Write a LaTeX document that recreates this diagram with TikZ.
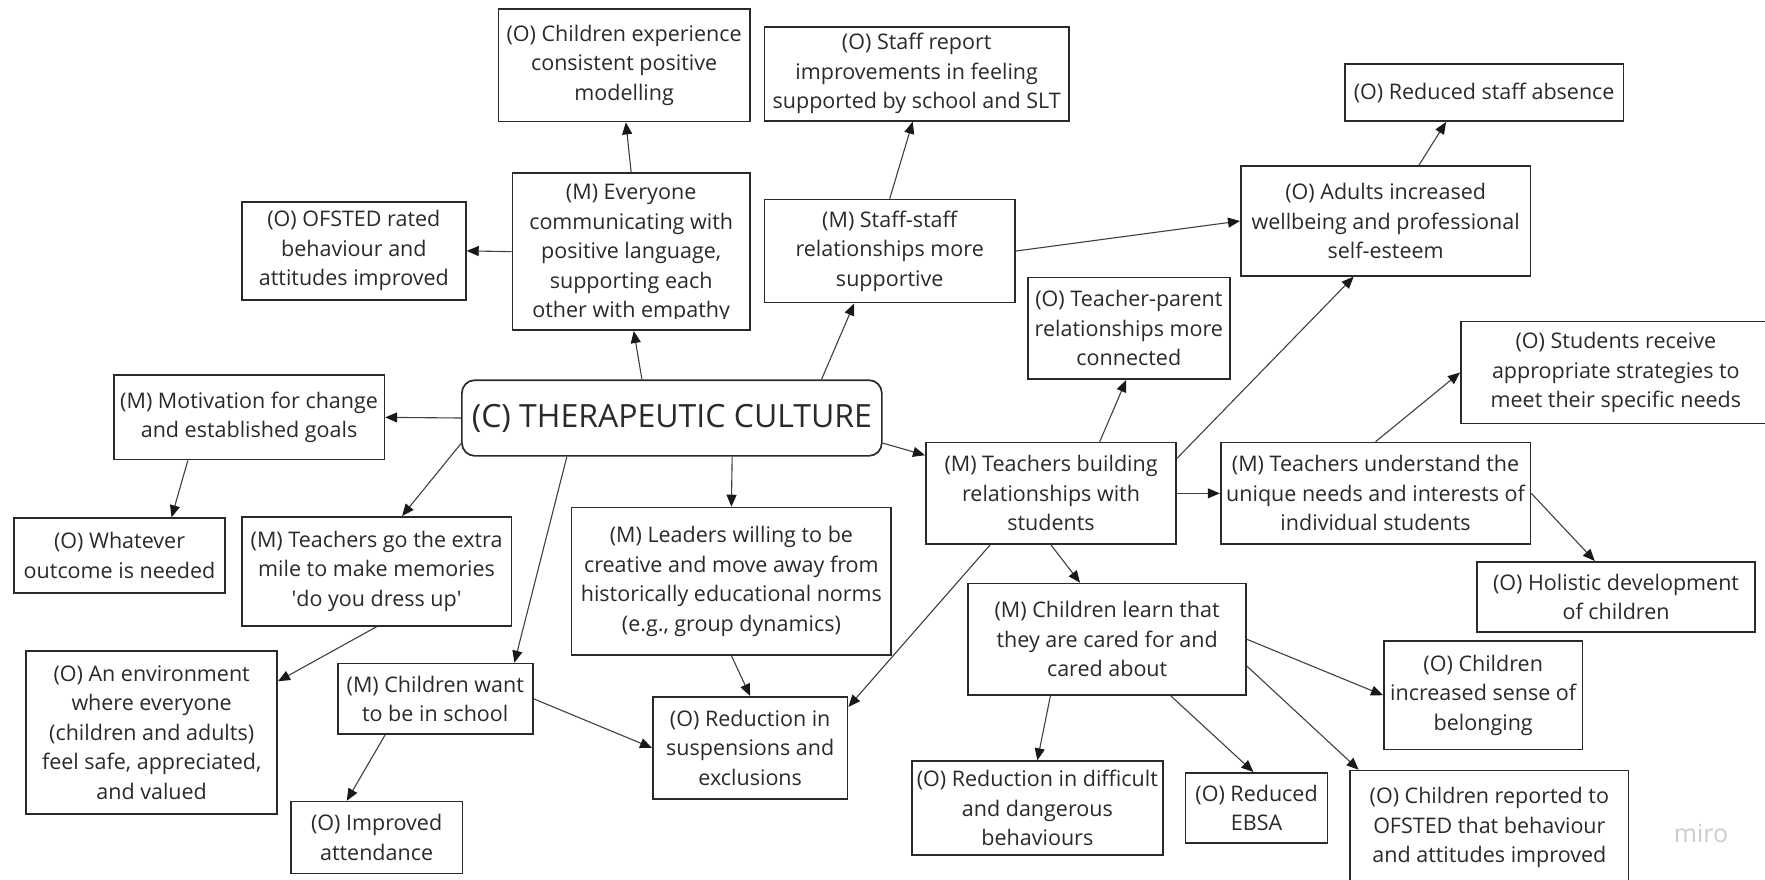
\documentclass[tikz,border=0pt]{standalone}
\usepackage{fontspec}
\setmainfont{Open Sans}
\usetikzlibrary{arrows.meta,calc}
\definecolor{ink}{HTML}{2A2A2A}
\definecolor{wire}{HTML}{404040}
\definecolor{mark}{HTML}{C9CCD3}
\newcommand\boxfont{\fontsize{21.5}{29.5}\selectfont}

\begin{document}
\begin{tikzpicture}[x=1pt,y=-1pt,
  box/.style={draw=ink, line width=1.7pt, align=center, inner sep=0pt,
    text=ink, font=\boxfont, anchor=north west},
  link/.style={draw=wire, line width=1.1pt, -{Triangle[length=12pt,width=10pt,color=black!90]}}]

\useasboundingbox (0,0) rectangle (1765,879);
\clip (0,0) rectangle (1765,879);
\fill[white] (0,0) rectangle (1765,879);

% ---- boxes ----
\node[box, minimum width=251.5pt, minimum height=112.4pt] (exp) at (497.5,8.3)
  {(O) Children experience\\consistent positive\\modelling};
\node[box, minimum width=304.3pt, minimum height=94pt] (rep) at (763.7,26)
  {(O) Staff report\\improvements in feeling\\supported by school and SLT};
\node[box, minimum width=278.6pt, minimum height=57pt] (abs) at (1344,63.3)
  {(O) Reduced staff absence};
\node[box, minimum width=224pt, minimum height=98pt] (ofr) at (241,201)
  {(O) OFSTED rated\\behaviour and\\attitudes improved};
% the last line of this box runs into its bottom padding and is cut there
\node[box, minimum width=237.4pt, minimum height=157pt,
  path picture={
    \clip ([yshift=12pt]path picture bounding box.south west) rectangle (path picture bounding box.north east);
    \node[anchor=center, align=center, inner sep=0pt, text=ink, font=\boxfont]
      at ([yshift=-2pt]path picture bounding box.center)
      {(M) Everyone\\communicating with\\positive language,\\supporting each\\other with empathy};
  }] (every) at (511.6,172.3) {};
\node[box, minimum width=250.3pt, minimum height=103pt] (ss) at (763.7,198.7)
  {(M) Staff-staff\\relationships more\\supportive};
\node[box, minimum width=289.6pt, minimum height=109.7pt] (adults) at (1240,165.3)
  {(O) Adults increased\\wellbeing and professional\\self-esteem};
\node[box, minimum width=202pt, minimum height=101.6pt] (tp) at (1027,276.7)
  {(O) Teacher-parent\\relationships more\\connected};
\node[box, minimum width=310pt, minimum height=102pt] (sr) at (1460,320.7)
  {(O) Students receive\\appropriate strategies to\\meet their specific needs};
\node[box, minimum width=270.5pt, minimum height=84.4pt] (mot) at (113,374.3)
  {(M) Motivation for change\\and established goals};
\node[box, rounded corners=13pt, minimum width=420pt, minimum height=75.7pt,
  font=\fontsize{32}{38}\selectfont] (cult) at (461,379.3)
  {(C) THERAPEUTIC CULTURE};
\node[box, minimum width=210.6pt, minimum height=74.7pt] (what) at (13.4,517.3)
  {(O) Whatever\\outcome is needed};
\node[box, minimum width=269.5pt, minimum height=109pt] (go) at (241,516)
  {(M) Teachers go the extra\\mile to make memories\\\textquotesingle do you dress up\textquotesingle};
\node[box, minimum width=319.7pt, minimum height=147.3pt] (lead) at (570.7,506.7)
  {(M) Leaders willing to be\\creative and move away from\\historically educational norms\\(e.g., group dynamics)};
\node[box, minimum width=250.4pt, minimum height=101.6pt] (tb) at (925,441.7)
  {(M) Teachers building\\relationships with\\students};
\node[box, minimum width=309.8pt, minimum height=101.6pt] (tu) at (1219.8,441.7)
  {(M) Teachers understand the\\unique needs and interests of\\individual students};
\node[box, minimum width=277.6pt, minimum height=70pt] (hol) at (1476.4,561)
  {(O) Holistic development\\of children};
\node[box, minimum width=251pt, minimum height=163pt] (env) at (25.3,650.3)
  {(O) An environment\\where everyone\\(children and adults)\\feel safe, appreciated,\\and valued};
\node[box, minimum width=195.2pt, minimum height=70.6pt] (want) at (336.8,662.7)
  {(M) Children want\\to be in school};
\node[box, minimum width=194.7pt, minimum height=102pt] (susp) at (652,696)
  {(O) Reduction in\\suspensions and\\exclusions};
\node[box, minimum width=278pt, minimum height=111.6pt] (cl) at (967.3,582.7)
  {(M) Children learn that\\they are cared for and\\cared about};
\node[box, minimum width=198.7pt, minimum height=108.7pt] (bel) at (1383,640)
  {(O) Children\\increased sense of\\belonging};
\node[box, minimum width=171.5pt, minimum height=72pt] (att) at (290,800.7)
  {(O) Improved\\attendance};
\node[box, minimum width=251pt, minimum height=94pt] (diff) at (911,760.3)
  {(O) Reduction in difficult\\and dangerous\\behaviours};
\node[box, minimum width=142pt, minimum height=70.3pt] (ebsa) at (1184.7,772)
  {(O) Reduced\\EBSA};
\node[box, minimum width=278.2pt, minimum height=114pt] (crep) at (1349.4,769.7)
  {(O) Children reported to\\OFSTED that behaviour\\and attitudes improved};

% ---- connectors ----
\draw[link] ($(cult.north west)!0.429!(cult.north east)$) -- ($(every.south west)!0.511!(every.south east)$);
\draw[link] (every.north) -- ($(exp.south west)!0.507!(exp.south east)$);
\draw[link] (every.west) -- (ofr.east);
\draw[link] ($(cult.north west)!0.855!(cult.north east)$) -- ($(ss.south west)!0.359!(ss.south east)$);
\draw[link] (ss.north) -- ($(rep.south west)!0.487!(rep.south east)$);
\draw[link] (ss.east) -- (adults.west);
\draw[link] ($(adults.north west)!0.614!(adults.north east)$) -- ($(abs.south west)!0.364!(abs.south east)$);
\draw[link] (cult.west) -- (mot.east);
\draw[link] ($(mot.south west)!0.275!(mot.south east)$) -- ($(what.north west)!0.745!(what.north east)$);
\draw[link] ($(cult.north west)!0.83!(cult.south west)$) -- ($(go.north west)!0.594!(go.north east)$);
\draw[link] ($(cult.south west)!0.251!(cult.south east)$) -- ($(want.north west)!0.902!(want.north east)$);
\draw[link] (go.south) -- ($(env.north east)!0.188!(env.south east)$);
\draw[link] ($(want.south west)!0.245!(want.south east)$) -- ($(att.north west)!0.328!(att.north east)$);
\draw[link] (want.east) -- (susp.west);
\draw[link] ($(cult.south west)!0.643!(cult.south east)$) -- (lead.north);
\draw[link] (lead.south) -- (susp.north);
\draw[link] ($(cult.north east)!0.824!(cult.south east)$) -- ($(tb.north west)!0.131!(tb.south west)$);
\draw[link] ($(tb.south west)!0.258!(tb.south east)$) -- ($(susp.north east)!0.105!(susp.south east)$);
\draw[link] (tb.south) -- ($(cl.north west)!0.403!(cl.north east)$);
\draw[link] ($(tb.north west)!0.693!(tb.north east)$) -- ($(tp.south west)!0.487!(tp.south east)$);
\draw[link] ($(tb.north east)!0.16!(tb.south east)$) -- ($(adults.south west)!0.39!(adults.south east)$);
\draw[link] (tb.east) -- (tu.west);
\draw[link] (tu.north) -- (sr.west);
\draw[link] (tu.east) -- ($(hol.north west)!0.424!(hol.north east)$);
\draw[link] (cl.east) -- (bel.west);
\draw[link] ($(cl.north east)!0.737!(cl.south east)$) -- ($(crep.north west)!0.033!(crep.north east)$);
\draw[link] ($(cl.south west)!0.728!(cl.south east)$) -- ($(ebsa.north west)!0.478!(ebsa.north east)$);
\draw[link] ($(cl.south west)!0.297!(cl.south east)$) -- (diff.north);

% ---- watermark ----
\node[text=mark, font=\fontsize{25}{25}\selectfont, inner sep=0pt] (wm) at (1701,833) {miro};
\end{tikzpicture}
\end{document}
